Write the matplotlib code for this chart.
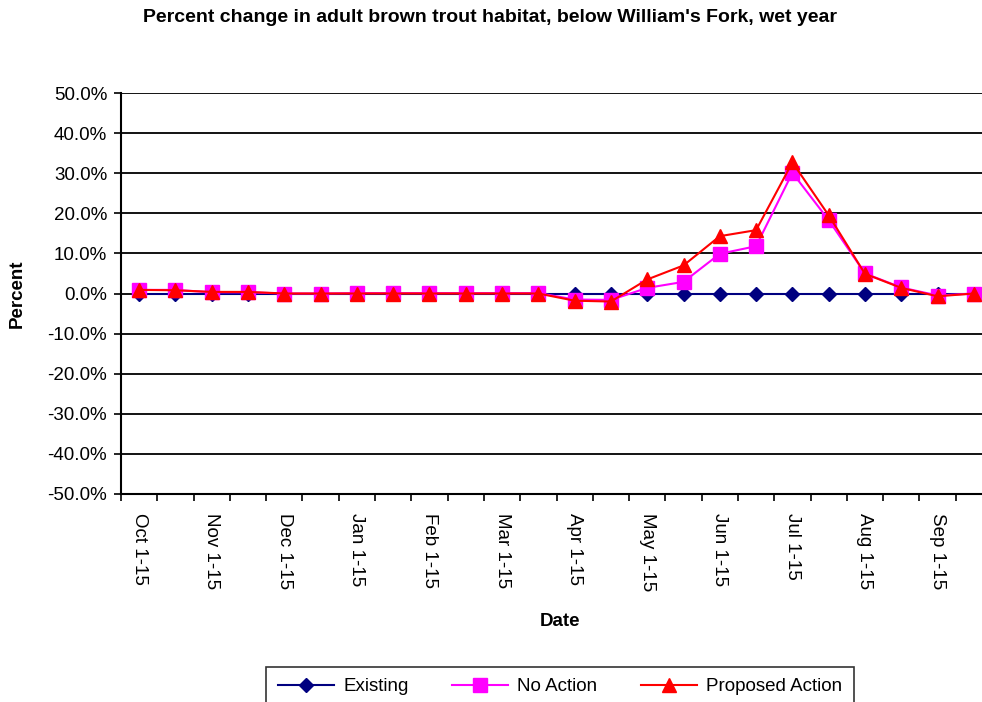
import matplotlib
matplotlib.use("Agg")
import matplotlib.pyplot as plt
from matplotlib.ticker import FixedLocator, FuncFormatter
import numpy as np

plt.rcParams['font.family'] = ['Liberation Sans', 'DejaVu Sans']

# half-month periods, Oct through Sep
months = ["Oct", "Nov", "Dec", "Jan", "Feb", "Mar", "Apr", "May", "Jun", "Jul", "Aug", "Sep"]
periods = []
for m in months:
    periods += [m + " 1-15", m + " 16-end"]

existing = [0.0] * 24
no_action = [0.9, 0.9, 0.3, 0.3, 0.0, 0.0, 0.1, 0.1, 0.1, 0.1, 0.1, 0.1,
             -1.5, -1.6, 1.4, 2.9, 9.9, 11.8, 30.1, 18.3, 5.0, 1.5, -0.5, 0.0]
proposed = [0.9, 0.8, 0.4, 0.4, 0.0, 0.0, 0.0, 0.0, 0.0, 0.0, 0.0, 0.0,
            -1.8, -2.0, 3.5, 7.0, 14.3, 15.8, 32.7, 19.5, 4.9, 1.4, -0.7, 0.0]

W, H = 982, 702
fig = plt.figure(figsize=(W / 100, H / 100), dpi=100)
ax = fig.add_axes([121 / W, (H - 494) / H, 871 / W, 401 / H])

x = np.arange(len(periods))
ax.plot(x, existing, color="#000080", marker="D", markersize=7, lw=1.5, label="Existing", clip_on=False, zorder=3)
ax.plot(x, no_action, color="#FF00FF", marker="s", markersize=10, lw=1.5, label="No Action", clip_on=False, zorder=4)
ax.plot(x, proposed, color="#FF0000", marker="^", markersize=10.5, lw=1.5, label="Proposed Action", clip_on=False, zorder=5)

ax.set_xlim(-0.5, len(periods) - 0.5)
ax.set_ylim(-50, 50)
ax.set_yticks(np.arange(-50, 51, 10))
ax.yaxis.set_major_formatter(FuncFormatter(lambda v, p: f"{v:.1f}%"))
ax.grid(axis="y", color="black", lw=1.3)
ax.set_axisbelow(True)

# category boundary ticks, labels on every other period
ax.xaxis.set_major_locator(FixedLocator(np.arange(-0.5, len(periods), 1)))
ax.xaxis.set_major_formatter(FuncFormatter(lambda v, p: ""))
ax.xaxis.set_minor_locator(FixedLocator(x[::2]))
ax.set_xticklabels([periods[i] for i in x[::2]], minor=True, rotation=-90, fontsize=13.5)
ax.tick_params(axis="x", which="minor", length=0, pad=14)
ax.tick_params(axis="x", which="major", length=5, width=1.2, direction="out")
ax.tick_params(axis="y", length=5, width=1.2, direction="out", labelsize=13.5, pad=5)

for s in ["top", "right"]:
    ax.spines[s].set_visible(False)
for s in ["left", "bottom"]:
    ax.spines[s].set_linewidth(1.5)

fig.text(490 / W, 1 - 18 / H, "Percent change in adult brown trout habitat, below William's Fork, wet year",
         ha="center", va="center", fontsize=14, fontweight="bold")
fig.text(17 / W, 1 - 294 / H, "Percent", rotation=90, ha="center", va="center", fontsize=13.5, fontweight="bold")
fig.text(560 / W, 1 - 622 / H, "Date", ha="center", va="center", fontsize=13.5, fontweight="bold")

leg = fig.legend(loc="upper center", bbox_to_anchor=(560 / W, 1 - 667 / H), ncol=3, fontsize=13.5,
                 frameon=True, fancybox=False, edgecolor="black", handlelength=3.0,
                 columnspacing=2.3, borderpad=0.6, borderaxespad=0, handletextpad=0.5)
leg.get_frame().set_linewidth(1.2)

fig.savefig("out.png", dpi=100)
